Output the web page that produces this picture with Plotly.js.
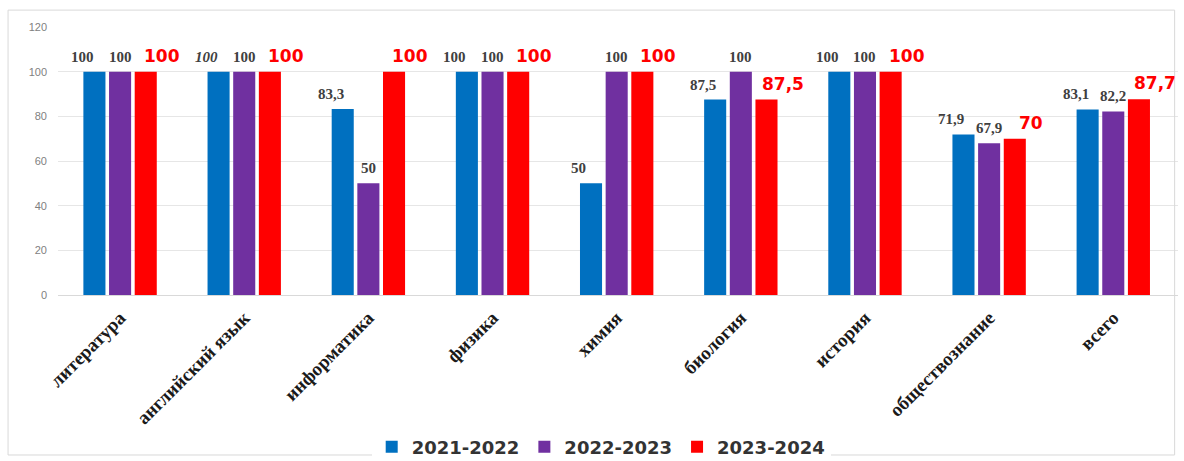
<!DOCTYPE html>
<html>
<head>
<meta charset="utf-8">
<script src="https://cdn.plot.ly/plotly-3.0.1.min.js"></script>
<style>
html,body{margin:0;padding:0;background:#fff;}
#chart{width:1184px;height:461px;}
</style>
</head>
<body>
<div id="chart"></div>
<script>
const categories = ["литература","английский язык","информатика","физика","химия","биология","история","обществознание","всего"];
const seriesNames = ["2021-2022","2022-2023","2023-2024"];
const values2021 = [100,100,83.3,100,50,87.5,100,71.9,83.1];
const values2022 = [100,100,50,100,100,100,100,67.9,82.2];
const values2023 = [100,100,100,100,100,87.5,100,70,87.7];
const yTicks = [0,20,40,60,80,100,120];
const italicLabel = {series:0, category:"английский язык"};

const colors = ["#0070C0","#7030A0","#FF0000"];
const fmt = v => String(v).replace('.', ',');

const grayFont = {family:"Liberation Serif, Times New Roman, serif", size:15, color:"#404040", weight:700};
const redFont = {family:"DejaVu Sans, Verdana, sans-serif", size:17, color:"#FF0000", weight:700};
const labelFonts = [grayFont, grayFont, redFont];
const labelShift = [-12, 0, 16];
const labelLift = [5, 5, 4];

const W = 1184, H = 461;
const margin = {l:58, r:6, t:27, b:166, autoexpand:false};
const bargap = 0.38, bargroupgap = 0.14;
const plotW = W - margin.l - margin.r;
const catPx = plotW / categories.length;
const slotPx = catPx * (1 - bargap) / 3;

const allVals = [values2021, values2022, values2023];
const data = allVals.map((vals, i) => ({
  type:"bar", name:seriesNames[i], x:categories, y:vals,
  marker:{color:colors[i]}, hoverinfo:"skip"
}));

const annotations = [];
allVals.forEach((vals, i) => {
  vals.forEach((v, j) => {
    const f = Object.assign({}, labelFonts[i]);
    if (i === italicLabel.series && categories[j] === italicLabel.category) f.style = "italic";
    annotations.push({
      x: categories[j], y: v, xref:"x", yref:"y",
      text: fmt(v), showarrow:false, yanchor:"bottom", xanchor:"center",
      xshift: (i - 1) * slotPx + labelShift[i], yshift: labelLift[i],
      font: f
    });
  });
});

const layout = {
  width:W, height:H, margin:margin,
  paper_bgcolor:"#fff", plot_bgcolor:"#fff",
  barmode:"group", bargap:bargap, bargroupgap:bargroupgap,
  showlegend:true,
  legend:{orientation:"h", x:0.485, xanchor:"center", y:-0.567, yanchor:"middle",
    font:{family:"DejaVu Sans, Verdana, sans-serif", size:18, color:"#333333", weight:700},
    itemwidth:30, traceorder:"normal"},
  xaxis:{tickangle:-45, showgrid:false, showline:false, ticks:"", ticklabelstandoff:7, automargin:false,
    tickfont:{family:"Liberation Serif, Times New Roman, serif", size:19, color:"#1a1a1a", weight:700}},
  yaxis:{range:[0,120], tickvals:yTicks, showgrid:true, gridcolor:"#e6e6e6", zeroline:true, zerolinecolor:"#d9d9d9",
    tickfont:{family:"Liberation Sans, Arial, sans-serif", size:11, color:"#7f7f7f"}, ticklabelstandoff:10},
  annotations: annotations,
  shapes:[{type:"rect", xref:"paper", yref:"paper", x0:-0.0446, x1:0.997, y0:-0.597, y1:1.063,
    line:{color:"#d9d9d9", width:1}, fillcolor:"rgba(0,0,0,0)"}]
};
Plotly.newPlot("chart", data, layout, {displayModeBar:false, staticPlot:true});
</script>
</body>
</html>
